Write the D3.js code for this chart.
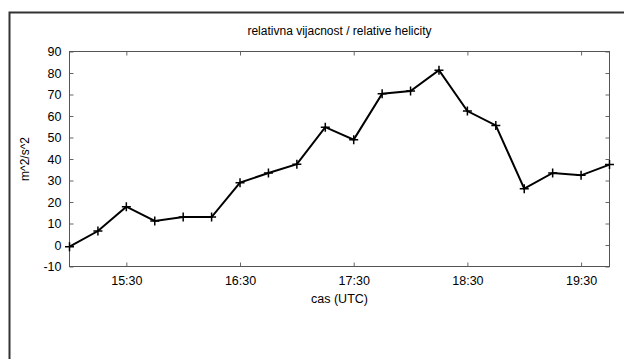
<!DOCTYPE html>
<html><head><meta charset="utf-8">
<script src="https://cdn.jsdelivr.net/npm/d3@7"></script>
<style>body{margin:0;background:#fff}svg{display:block}text{font-family:"Liberation Sans",Arial,sans-serif;fill:#000}</style>
</head><body><svg id="c" width="624" height="359"></svg>
<script>
const times = ["15:00","15:15","15:30","15:45","16:00","16:15","16:30","16:45","17:00","17:15","17:30","17:45","18:00","18:15","18:30","18:45","19:00","19:15","19:30","19:45"];
const helicity = [-0.8,6.5,17.8,11.2,13,13,29,33.5,37.6,54.8,49,70.4,71.6,81.3,62.3,55.6,26.2,33.5,32.4,37.4];
const xTickLabels = ["15:30","16:30","17:30","18:30","19:30"];
const yTicks = [-10,0,10,20,30,40,50,60,70,80,90];

const toMin = s => { const [h,m] = s.split(":").map(Number); return h*60+m; };
const svg = d3.select("#c");
const L=69.5, R=609.5, T=51.5, B=266.5;
const x = d3.scaleLinear().domain([toMin(times[0]), toMin(times[times.length-1])]).range([L,R]);
const y = d3.scaleLinear().domain([-10,90]).range([B,T]);

// outer frame
svg.append("rect").attr("x",9.5).attr("y",12.5).attr("width",640).attr("height",400)
  .attr("fill","none").attr("stroke","#333").attr("stroke-width",2);

const tickC="#666";
// y axis left
const gy = svg.append("g").attr("transform",`translate(${L},0)`)
  .call(d3.axisLeft(y).tickValues(yTicks).tickSize(-4).tickPadding(8).tickFormat(d => String(d)));
gy.select(".domain").remove();
gy.selectAll("line").attr("stroke",tickC);
gy.selectAll("text").style("font-size","12.5px");
// y right ticks
const gyr = svg.append("g").attr("transform",`translate(${R},0)`)
  .call(d3.axisRight(y).tickValues(yTicks).tickSize(-4).tickFormat(""));
gyr.select(".domain").remove();
gyr.selectAll("line").attr("stroke",tickC);
// x axis
const xt = xTickLabels.map(toMin);
const gx = svg.append("g").attr("transform",`translate(0,${B})`)
  .call(d3.axisBottom(x).tickValues(xt).tickSize(-4).tickPadding(10)
  .tickFormat(d => xTickLabels[xt.indexOf(d)]));
gx.select(".domain").remove();
gx.selectAll("line").attr("stroke",tickC);
gx.selectAll("text").style("font-size","12.5px");
const gxt = svg.append("g").attr("transform",`translate(0,${T})`)
  .call(d3.axisTop(x).tickValues(xt).tickSize(-4).tickFormat(""));
gxt.select(".domain").remove();
gxt.selectAll("line").attr("stroke",tickC);

// plot border
svg.append("rect").attr("x",L).attr("y",T).attr("width",R-L).attr("height",B-T)
  .attr("fill","none").attr("stroke","#555").attr("stroke-width",1);

// line
const pts = times.map((t,i)=>[x(toMin(t)), y(helicity[i])]);
svg.append("path").attr("d", d3.line()(pts)).attr("fill","none").attr("stroke","#000").attr("stroke-width",2);
// + markers
svg.append("g").selectAll("path").data(pts).join("path")
  .attr("d", d=>`M${d[0]-4.5},${d[1]}H${d[0]+4.5}M${d[0]},${d[1]-4.5}V${d[1]+4.5}`)
  .attr("stroke","#000").attr("stroke-width",1.5);

// titles
svg.append("text").attr("x",(L+R)/2).attr("y",35).attr("text-anchor","middle").style("font-size","12px")
  .text("relativna vijacnost / relative helicity");
svg.append("text").attr("x",(L+R)/2).attr("y",303).attr("text-anchor","middle").style("font-size","12.5px")
  .text("cas (UTC)");
svg.append("text").attr("transform",`translate(29,${(T+B)/2}) rotate(-90)`).attr("text-anchor","middle").style("font-size","12px")
  .text("m^2/s^2");
</script></body></html>
